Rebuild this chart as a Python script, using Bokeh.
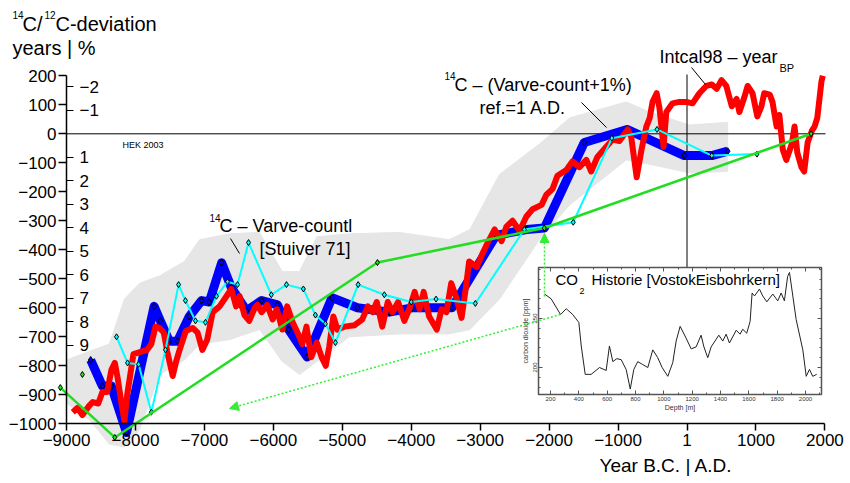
from bokeh.plotting import figure
from bokeh.models import (Range1d, LinearAxis, FixedTicker, SingleIntervalTicker, Label,
                          Arrow, NormalHead)
from bokeh.embed import file_html
from bokeh.resources import INLINE

# ---------------- data ----------------
x_tick_vals = [-9000, -8000, -7000, -6000, -5000, -4000, -3000, -2000, -1000, 0, 1000, 2000]
y_tick_vals = [200, 100, 0, -100, -200, -300, -400, -500, -600, -700, -800, -900, -1000]
pct_tick_vals = [-2, -1, 1, 2, 3, 4, 5, 6, 7, 8, 9]

red_year = [-8910, -8840, -8770, -8680, -8620, -8540, -8480, -8410, -8350, -8300,
            -8260, -8200, -8160, -8120, -8030, -7830, -7770, -7710, -7650, -7590,
            -7540, -7460, -7410, -7360, -7270, -7170, -7100, -7030, -6960, -6880,
            -6780, -6680, -6610, -6540, -6490, -6420, -6350, -6270, -6230, -6170,
            -6090, -6010, -5950, -5870, -5800, -5720, -5650, -5580, -5520, -5450,
            -5370, -5300, -5240, -5190, -5130, -5070, -4970, -4820, -4710, -4630,
            -4560, -4500, -4420, -4340, -4270, -4190, -4100, -4030, -3950, -3880,
            -3820, -3740, -3630, -3560, -3490, -3420, -3340, -3270, -3210, -3160,
            -3050, -2970, -2890, -2790, -2690, -2620, -2530, -2430, -2330, -2240,
            -2110, -2040, -1950, -1880, -1750, -1660, -1560, -1460, -1390, -1300,
            -1170, -1080, -980, -860, -810, -730, -660, -590, -540, -500,
            -440, -400, -340, -300, -210, -110, -10, 80, 180, 280,
            360, 430, 500, 570, 650, 720, 760, 830, 880, 950,
            1020, 1080, 1120, 1200, 1240, 1300, 1340, 1390, 1440, 1520,
            1560, 1600, 1660, 1700, 1750, 1810, 1850, 1890, 1950, 1970]
red_val = [-960, -945, -970, -940, -925, -930, -890, -890, -815, -790,
           -840, -935, -990, -900, -760, -745, -725, -665, -670, -685,
           -750, -835, -785, -745, -680, -670, -685, -745, -710, -615,
           -595, -560, -535, -595, -560, -625, -645, -600, -590, -615,
           -590, -640, -605, -675, -595, -650, -685, -725, -665, -770,
           -720, -770, -800, -735, -630, -675, -665, -660, -640, -595,
           -615, -580, -665, -580, -615, -580, -645, -605, -545, -605,
           -545, -630, -675, -605, -615, -515, -570, -635, -535, -440,
           -460, -415, -375, -330, -370, -320, -300, -335, -285, -260,
           -245, -210, -190, -145, -125, -95, -115, -90, -130, -80,
           -45, -20, -25, 15, -10, -150, -55, 25, 55, 110,
           140, 90, -45, 75, 105, 110, 110, 105, 140, 165,
           170, 155, 185, 165, 95, 120, 75, 125, 165, 140,
           60, 95, 140, 135, 110, 25, 65, -55, -90, -35,
           25, -65, -115, -130, -30, 10, 25, 55, 180, 200]

blue_year = [-8650, -8480, -8350, -8130, -7730, -7640, -7510, -7390, -7220, -7040,
             -6930, -6750, -6610, -6390, -6170, -5940, -5780, -5510, -5150, -4780,
             -4320, -3990, -3410, -2770, -2330, -2070, -1490, -870, -40, 360, 590]
blue_val = [-780, -870, -870, -1030, -595, -645, -715, -715, -630, -575,
            -580, -445, -530, -610, -575, -590, -675, -770, -565, -600,
            -615, -600, -600, -350, -330, -325, -30, 15, -75, -75, -60]

cyan_year = [-8275, -8115, -7955, -7770, -7565, -7375, -7275, -7130, -6985, -6825,
             -6665, -6520, -6360, -6030, -5810, -5565, -5390, -5245, -5100, -4770,
             -4390, -4000, -3640, -3070, -2360, -1650, -1090, -435, 360, 1015]
cyan_val = [-700, -790, -795, -960, -745, -520, -575, -645, -650, -560,
            -510, -520, -375, -555, -520, -535, -625, -655, -720, -520,
            -555, -580, -570, -585, -330, -305, -15, 15, -75, -70]

green_year = [-9090, -8300, -4490, -2070, 1800]
green_val = [-875, -1047, -444, -325, 0]
green_extra_year = [-8770]
green_extra_val = [-830]

band_year = [-9000, -8670, -8380, -8160, -7940, -7650, -7290, -7070, -6640, -6200, -5870, -5620,
             -5370, -4900, -4170, -3450, -3150, -2720, -2140, -1700, -880, -540, 40, 590]
band_hi = [-780, -750, -725, -570, -515, -490, -440, -365, -345, -340, -475, -475,
           -355, -345, -340, -365, -330, -140, -35, 55, 110, 75, 30, 40]
band_lo = [-930, -985, -1070, -1080, -1020, -830, -780, -725, -710, -675, -785, -830,
           -785, -700, -690, -690, -675, -570, -365, -245, -90, -105, -135, -130]

co2_depth = [158, 205, 271, 311, 357, 400, 417, 445, 487, 546,
             593, 616, 640, 668, 699, 734, 763, 788, 816, 851,
             887, 922, 957, 988, 1028, 1063, 1087, 1115, 1157, 1193,
             1228, 1263, 1283, 1310, 1334, 1388, 1416, 1440, 1463, 1511,
             1538, 1557, 1585, 1609, 1623, 1640, 1675, 1698, 1727, 1769,
             1804, 1828, 1851, 1874, 1887, 1934, 1981, 2005, 2028, 2051, 2079]
co2_ppm = [275, 270, 254, 260, 254, 246, 222, 193, 193, 200,
           197, 222, 206, 209, 208, 198, 178, 198, 206, 203,
           200, 218, 210, 200, 191, 205, 227, 242, 230, 219,
           221, 233, 221, 210, 221, 233, 227, 234, 225, 238,
           234, 239, 235, 247, 276, 273, 280, 273, 267, 275,
           268, 276, 268, 293, 297, 249, 218, 191, 198, 191, 193]
co2_major_ticks = [200, 250]
co2_minor_ticks = [180, 190, 210, 220, 230, 240, 260, 270, 280, 290, 300]

# ---------------- layout (screen mapping) ----------------
OFF = 1                          # page offset of the canvas in the screenshot
W, H = 846, 478
X0, XS = 687.5 - OFF, 0.06894    # canvas px of year 0, px per year
Y0, YS = 134.3 - OFF, 0.29       # canvas px of value 0, px per year-deviation
PCT = 81.0                       # years per percent
D0, DS = 551 - OFF, 0.14167      # canvas px of depth 200, px per metre
C0, CS = 319 - OFF, 0.98         # canvas px of 250 ppm, px per ppm

x_start, x_end = -X0 / XS, (W - X0) / XS
y_end, y_start = Y0 / YS, -(H - Y0) / YS
d_start = 200 - D0 / DS
d_end = d_start + W / DS
c_end = 250 + C0 / CS
c_start = c_end - H / CS


def X(px):
    return (px - OFF - X0) / XS


def Y(py):
    return (Y0 - (py - OFF)) / YS


def DX(px):
    return 200 + (px - OFF - D0) / DS


def CY(py):
    return 250 + (C0 - (py - OFF)) / CS


FONT = "Liberation Sans"

p = figure(width=W, height=H, x_range=Range1d(x_start, x_end), y_range=Range1d(y_start, y_end),
           x_axis_type=None, y_axis_type=None, toolbar_location=None, output_backend="svg",
           min_border=0, min_border_left=0, min_border_right=0, min_border_top=0,
           min_border_bottom=0)
p.outline_line_color = None
p.background_fill_color = "white"
p.border_fill_color = "white"
p.extra_x_ranges = {"depth": Range1d(d_start, d_end)}
p.extra_y_ranges = {"ppm": Range1d(c_start, c_end),
                    "pct": Range1d(y_start / -PCT, y_end / -PCT)}

# gray band
p.patch(band_year + band_year[::-1], band_hi + band_lo[::-1], fill_color="#e6e6e6",
        line_color="#e6e6e6", line_width=1)

# reference lines
p.segment(x0=[-9000], y0=[0], x1=[X(826)], y1=[0], line_color="black", line_width=1)
p.segment(x0=[0], y0=[Y(75)], x1=[0], y1=[Y(268)], line_color="black", line_width=1)

# series
p.line(blue_year, blue_val, line_color="#0000ff", line_width=9, line_join="round")
p.scatter(blue_year, blue_val, marker="diamond", size=7, fill_color="#0000ff",
          line_color="black", line_width=1)
p.line(red_year, red_val, line_color="#ff0000", line_width=6, line_join="round")
p.line(cyan_year, cyan_val, line_color="#00ffff", line_width=2)
p.scatter(cyan_year, cyan_val, marker="diamond", size=6, fill_color="#00ffff",
          line_color="black", line_width=1)
p.line(green_year, green_val, line_color="#22dd22", line_width=2.5)
p.scatter(green_year + green_extra_year, green_val + green_extra_val, marker="diamond", size=6,
          fill_color="#22dd22", line_color="black", line_width=1)

# leader lines
p.segment(x0=[X(692), X(582), X(231)], y0=[Y(68), Y(103), Y(239)],
          x1=[X(706), X(607), X(240)], y1=[Y(85), Y(128), Y(254)],
          line_color="black", line_width=1)

# main axes
ax_font = dict(major_label_text_font=FONT, major_label_text_color="black")
xax = LinearAxis(fixed_location=-1000, bounds=(-9000, 2000), ticker=FixedTicker(ticks=x_tick_vals),
                 major_label_overrides={0: "1"}, major_tick_out=7, major_tick_in=0,
                 axis_line_width=1.5, major_tick_line_width=1.5, major_label_standoff=3,
                 major_label_text_font_size="17px", **ax_font)
p.add_layout(xax, "below")
yax = LinearAxis(fixed_location=-9000, bounds=(-1000, 200), ticker=FixedTicker(ticks=y_tick_vals),
                 major_tick_out=8, major_tick_in=0, axis_line_width=1.5,
                 major_tick_line_width=1.5, major_label_standoff=2,
                 major_label_text_font_size="17px", **ax_font)
p.add_layout(yax, "left")
pax = LinearAxis(y_range_name="pct", fixed_location=-9000, ticker=FixedTicker(ticks=pct_tick_vals),
                 axis_line_color=None, major_tick_out=7, major_tick_in=0,
                 major_tick_line_width=1.2, major_label_standoff=6,
                 major_label_text_font_size="17px", **ax_font)
p.add_layout(pax, "right")

# ---- inset (CO2 history) ----
p.quad(left=[DX(539)], right=[DX(822)], top=[CY(268)], bottom=[CY(395)],
       x_range_name="depth", y_range_name="ppm", fill_color="white",
       line_color="#555555", line_width=1.5)
p.line(co2_depth, co2_ppm, x_range_name="depth", y_range_name="ppm",
       line_color="#222222", line_width=1)
ins = dict(x_range_name="depth", y_range_name="ppm", axis_line_color=None,
           major_tick_in=4, major_tick_out=0, minor_tick_in=2, minor_tick_out=0,
           major_tick_line_color="#555555", minor_tick_line_color="#555555",
           major_label_text_font=FONT, major_label_text_font_size="6px",
           major_label_text_color="#333333",
           axis_label_text_font=FONT, axis_label_text_font_size="7px",
           axis_label_text_font_style="normal", axis_label_text_color="#333333")
ib = LinearAxis(fixed_location=CY(395), bounds=(DX(539), DX(822)),
                ticker=SingleIntervalTicker(interval=200, num_minor_ticks=2),
                major_label_standoff=2, axis_label="Depth [m]", axis_label_standoff=0, **ins)
p.add_layout(ib, "below")
it = LinearAxis(fixed_location=CY(268), bounds=(DX(539), DX(822)),
                ticker=SingleIntervalTicker(interval=200, num_minor_ticks=2),
                major_label_text_alpha=0, **ins)
p.add_layout(it, "above")
il = LinearAxis(fixed_location=DX(539), bounds=(CY(395), CY(268)),
                ticker=FixedTicker(ticks=co2_major_ticks, minor_ticks=co2_minor_ticks),
                major_label_orientation="vertical", major_label_standoff=2,
                axis_label="carbon dioxide [ppm]", axis_label_standoff=1, **ins)
p.add_layout(il, "left")
ir = LinearAxis(fixed_location=DX(822), bounds=(CY(395), CY(268)),
                ticker=FixedTicker(ticks=co2_major_ticks, minor_ticks=co2_minor_ticks),
                major_label_text_alpha=0, **ins)
p.add_layout(ir, "right")

# dotted green arrows
GREEN2 = "#33ee33"
p.add_layout(Arrow(end=NormalHead(size=9, fill_color=GREEN2, line_color=GREEN2),
                   x_start=X(545), y_start=Y(297), x_end=X(545), y_end=Y(234),
                   line_color=GREEN2, line_width=1.5, line_dash="2 2"))
p.add_layout(Arrow(end=NormalHead(size=9, fill_color=GREEN2, line_color=GREEN2),
                   x_start=X(561), y_start=Y(315), x_end=X(230), y_end=Y(409),
                   line_color=GREEN2, line_width=1.5, line_dash="2 2"))


# texts
def lab(px, py, text, size, align="left", color="black"):
    p.add_layout(Label(x=X(px), y=Y(py), text=text, text_font=FONT, text_font_size=size,
                       text_align=align, text_baseline="middle", text_color=color))


lab(13, 15, "14", "10px")
lab(23, 24, "C/", "20px")
lab(45, 15, "12", "10px")
lab(56, 24, "C-deviation", "20px")
lab(13, 48, "years |  %", "20px")
lab(123, 145, "HEK 2003", "9px")
lab(210, 218, "14", "10px")
lab(220, 226, "C – Varve-countl", "18px")
lab(260, 249, "[Stuiver 71]", "18px")
lab(445, 76, "14", "10px")
lab(455, 85, "C – (Varve-count+1%)", "18px")
lab(480, 108, "ref.=1 A.D.", "18px")
lab(660, 57, "Intcal98 – year", "18px")
lab(780, 68, "BP", "11px")
lab(556, 280, "CO", "15px")
lab(580, 291, "2", "9px")
lab(592, 280, "Historie [VostokEisbohrkern]", "15px")
lab(600, 466, "Year B.C. | A.D.", "19px")

open("out.html", "w").write(file_html(p, INLINE))
